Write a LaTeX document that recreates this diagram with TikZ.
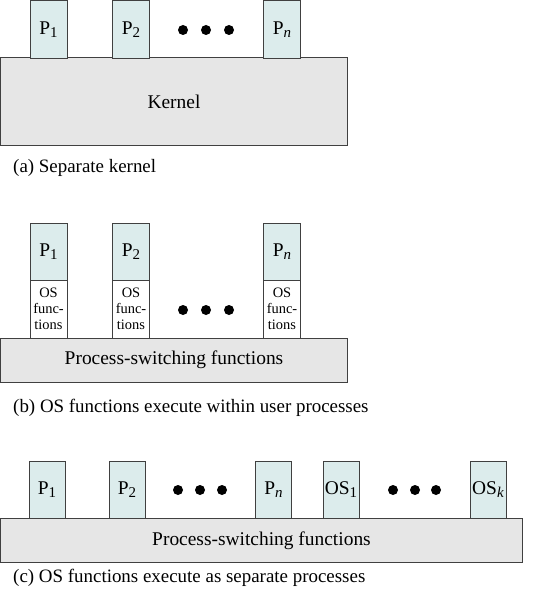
\documentclass[tikz,border=0pt]{standalone}
\usepackage{fontspec}
\setmainfont{Liberation Serif}
\definecolor{pblue}{RGB}{220,236,236}
\definecolor{kgray}{RGB}{230,230,230}
\newcommand{\subx}[1]{\raisebox{-0.35ex}{\fontsize{15}{15}\selectfont #1}}
\begin{document}
\begin{tikzpicture}[x=1bp,y=-1bp,
  pbox/.style={draw=black!75,line width=1pt,fill=pblue,minimum width=37bp,minimum height=57bp,inner sep=0pt,font=\fontsize{19.5}{19.5}\selectfont},
  osbox/.style={draw=black!75,line width=1pt,fill=white,minimum width=37bp,minimum height=58bp,inner sep=0pt,align=center,font=\fontsize{14.5}{16}\selectfont},
  base/.style={draw=black!75,line width=1pt,fill=kgray,inner sep=0pt,font=\fontsize{19.5}{19.5}\selectfont},
  captxt/.style={anchor=west,inner sep=0pt,font=\fontsize{19}{19}\selectfont},
  dotc/.style={circle,fill=black,inner sep=0pt,minimum size=10bp}]
\useasboundingbox (0,0) rectangle (539,597);
% (a)
\node[base,minimum width=346bp,minimum height=87bp] (kernel) at (174,101.5) {Kernel};
\node[pbox] (a1) at (48.5,29.5) {P\subx{1}};
\node[pbox] (a2) at (131,29.5) {P\subx{2}};
\node[pbox] (an) at (282,29.5) {P\subx{\textit{n}}};
\node[dotc] (ad1) at (183,30) {};
\node[dotc] (ad2) at (206,30) {};
\node[dotc] (ad3) at (229,30) {};
\node[captxt] (capa) at (13,168) {(a) Separate kernel};
% (b)
\node[base,minimum width=346bp,minimum height=44bp] (psb) at (174,360) {Process-switching functions};
\node[pbox] (b1) at (48.5,251.5) {P\subx{1}};
\node[pbox] (b2) at (131,251.5) {P\subx{2}};
\node[pbox] (bn) at (282,251.5) {P\subx{\textit{n}}};
\node[osbox] (o1) at (48.5,309) {OS\\func-\\tions};
\node[osbox] (o2) at (131,309) {OS\\func-\\tions};
\node[osbox] (on) at (282,309) {OS\\func-\\tions};
\node[dotc] (bd1) at (183,310) {};
\node[dotc] (bd2) at (206,310) {};
\node[dotc] (bd3) at (229,310) {};
\node[captxt] (capb) at (13,408) {(b) OS functions execute within user processes};
% (c)
\node[base,minimum width=521bp,minimum height=44bp] (psc) at (261.5,540.5) {Process-switching functions};
\node[pbox,minimum width=36bp] (c1) at (47,490) {P\subx{1}};
\node[pbox,minimum width=36bp] (c2) at (127,490) {P\subx{2}};
\node[pbox,minimum width=36bp] (cn) at (273.5,490) {P\subx{\textit{n}}};
\node[pbox,minimum width=36bp] (os1) at (341,490) {OS\subx{1}};
\node[pbox,minimum width=36bp] (osk) at (488,490) {OS\subx{\textit{k}}};
\node[dotc] (cd1) at (178,490) {};
\node[dotc] (cd2) at (200,490) {};
\node[dotc] (cd3) at (222,490) {};
\node[dotc] (cd4) at (393,490) {};
\node[dotc] (cd5) at (415,490) {};
\node[dotc] (cd6) at (436,490) {};
\node[captxt] (capc) at (13,578) {(c) OS functions execute as separate processes};
\end{tikzpicture}
\end{document}
